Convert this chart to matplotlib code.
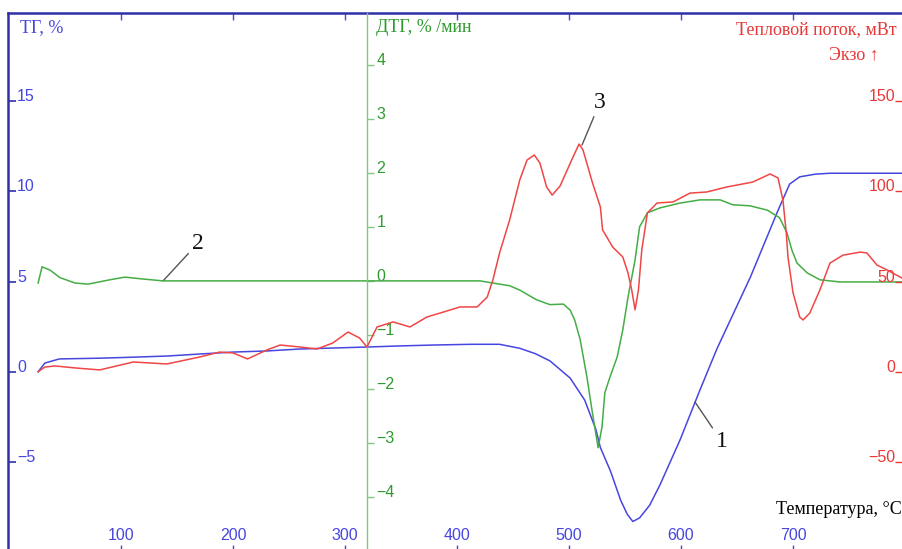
import numpy as np
from matplotlib import pyplot as plt

# --- data ---
# TG curve (1), %
tg_t = [26, 32, 45, 81, 108, 141, 170, 200, 230, 260, 320, 349, 379, 412, 438,
        456, 470, 483, 501, 514, 524, 528, 537, 546, 552, 557, 563, 572, 581,
        599, 617, 632, 662, 686, 697, 706, 720, 733, 797]
tg_v = [0.0, 0.48, 0.71, 0.75, 0.80, 0.87, 0.98, 1.09, 1.15, 1.26, 1.37, 1.43,
        1.48, 1.52, 1.52, 1.30, 1.0, 0.6, -0.35, -1.57, -3.2, -4.2, -5.5, -7.1,
        -7.9, -8.3, -8.1, -7.4, -6.3, -3.8, -1.0, 1.26, 5.25, 8.85, 10.4, 10.8,
        10.95, 11.0, 11.0]

# DTG curve (2), %/min
dtg_t = [26, 29.5, 36.6, 45.5, 59, 70.5, 90, 103.6, 117, 137.5, 420.5, 432, 447,
         456, 471, 483, 495, 501, 505, 510, 516, 520.5, 526, 529.5, 532, 536.6,
         543, 548, 552.7, 559, 563, 570, 581, 599, 617, 635, 646, 661.6, 677,
         688, 694.6, 699, 703.6, 712.5, 724, 742, 797]
dtg_v = [-0.04, 0.26, 0.20, 0.06, -0.04, -0.06, 0.02, 0.07, 0.04, 0.0, 0.0,
         -0.04, -0.09, -0.17, -0.35, -0.44, -0.43, -0.54, -0.72, -1.09, -1.78,
         -2.39, -3.09, -2.70, -2.07, -1.78, -1.41, -0.91, -0.30, 0.39, 1.0, 1.26,
         1.35, 1.44, 1.5, 1.5, 1.41, 1.39, 1.31, 1.17, 0.89, 0.57, 0.33, 0.15,
         0.02, -0.02, -0.02]

# heat flow curve (3), mW
hf_t = [26, 32, 41, 59, 81, 111, 141, 170.5, 188, 200, 213, 230, 242, 260, 275,
        289, 302.7, 313, 319.6, 328.6, 343, 358, 373, 387.5, 402.7, 418, 427,
        432, 438, 447, 456, 462.5, 469, 474, 480, 485, 492, 503.6, 509, 512.5,
        521, 528, 530, 539, 548, 552.7, 556, 559, 562, 565, 570, 578.6, 593,
        608, 623, 641, 664, 679.5, 686.6, 691, 694, 695.5, 700, 706, 709, 715,
        724, 733, 744.6, 760, 766, 775, 784, 797]
hf_v = [0, 2.6, 3.2, 2.1, 1.0, 5.4, 4.3, 8.2, 10.9, 10.4, 7.1, 12.0, 14.8, 13.7,
        12.6, 15.9, 22.0, 18.7, 13.7, 24.8, 27.6, 24.8, 30.3, 33.0, 35.9, 35.9,
        41.4, 50.8, 65.8, 84.1, 106.2, 117.3, 120.1, 115.7, 102.4, 97.9, 102.9,
        119, 126.2, 122.9, 104.6, 91.3, 78.6, 69.1, 63.6, 54.7, 45.3, 34.3, 45.3,
        67.5, 88, 93.5, 94.1, 99, 99.6, 102.4, 105.1, 109.6, 107.4, 95.2, 76.9,
        63.6, 43.8, 30.3, 28.7, 32.5, 45.3, 60.2, 64.6, 66.3, 65.8, 59.1, 56.4,
        52.0]

x_ticks = [100, 200, 300, 400, 500, 600, 700]
tg_ticks = [-5, 0, 5, 10, 15]
dtg_ticks = [-4, -3, -2, -1, 0, 1, 2, 3, 4]
hf_ticks = [-50, 0, 50, 100, 150]

# curve labels: (text, point on curve, text position) in TG axis units
marks = [('1', (612.5, -1.68), (636.6, -3.89)),
         ('2', (137.5, 5.03), (168.75, 7.13)),
         ('3', (511.6, 12.56), (527.7, 14.94))]

def lbl(v):
    return str(v).replace('-', '\u2212')

BLUE = '#4646e0'
BLUE_D = '#3030a8'
GREEN = '#45ad45'
GREEN_L = '#80c880'
GREEN_T = '#2f9a2f'
RED = '#f04646'
RED_T = '#e83838'
SANS = 'Liberation Sans'
SERIF = ['Liberation Serif', 'DejaVu Serif']
TFS = 11.5

fig = plt.figure(figsize=(9.02, 5.49), dpi=100)
ax = fig.add_axes([8/902, -3/549, 897/902, 539/549])
ax.set_xlim(-0.9, 800)
ax.set_ylim(-9.99, 19.88)

ax2 = ax.twinx()
ax2.set_ylim(-5.02, 4.96)
ax3 = ax.twinx()
ax3.set_ylim(-99.9, 198.8)

# curves
ax.plot(tg_t, tg_v, color=BLUE, lw=1.1, zorder=3)
ax2.plot(dtg_t, dtg_v, color=GREEN, lw=1.1)
ax3.plot(hf_t, hf_v, color=RED, lw=1.1)

# spines
for s in ['right', 'bottom']:
    ax.spines[s].set_visible(False)
for s in ['left', 'top']:
    ax.spines[s].set_color(BLUE_D)
    ax.spines[s].set_linewidth(1.8)
for s in ['top', 'bottom', 'right']:
    ax2.spines[s].set_visible(False)
ax2.spines['left'].set_visible(True)
ax2.spines['left'].set_position(('data', 320))
ax2.spines['left'].set_color(GREEN_L)
ax2.spines['left'].set_linewidth(1.0)
for s in ax3.spines:
    ax3.spines[s].set_visible(False)

# x ticks: labels inside, above the bottom
ax.set_xticks(x_ticks, [str(v) for v in x_ticks], va='bottom',
              fontfamily=SANS, fontsize=TFS, color=BLUE)
ax.tick_params(axis='x', which='both', bottom=True, top=True, direction='in',
               length=5, width=1, color=BLUE, pad=-6.5)
ax.tick_params(axis='x', top=True, labeltop=False)

# TG ticks
ax.set_yticks(tg_ticks, [lbl(v) for v in tg_ticks], ha='left', va='baseline',
              fontfamily=SANS, fontsize=TFS, color=BLUE)
ax.tick_params(axis='y', direction='in', length=6, width=1.2, color=BLUE_D, pad=-6.5)

# DTG ticks
ax2.yaxis.tick_left()
ax2.set_yticks(dtg_ticks, [lbl(v) for v in dtg_ticks], ha='left', va='baseline',
               fontfamily=SANS, fontsize=TFS, color=GREEN_T)
ax2.tick_params(axis='y', direction='in', length=5, width=1, color=GREEN_L, pad=-6.5)

# heat flow ticks
ax3.set_yticks(hf_ticks, [lbl(v) for v in hf_ticks], ha='right', va='baseline',
               fontfamily=SANS, fontsize=TFS, color=RED_T)
ax3.tick_params(axis='y', direction='in', length=7, width=1, color=RED_T, pad=-7)

# axis titles
fig.text(20/902, 1 - 28/549, 'ТГ, %', color=BLUE, family=SERIF, fontsize=13,
         ha='left', va='center')
fig.text(376/902, 1 - 28/549, 'ДТГ, % /мин', color=GREEN_T, family=SERIF,
         fontsize=13, ha='left', va='center')
fig.text(897/902, 1 - 30/549, 'Тепловой поток, мВт', color=RED_T, family=SERIF,
         fontsize=13, ha='right', va='center')
fig.text(879/902, 1 - 55/549, 'Экзо \u2191', color=RED_T, family=SERIF,
         fontsize=13, ha='right', va='center')
fig.text(1.0, 1 - 510/549, 'Температура, °С', color='black', family=SERIF,
         fontsize=13, ha='right', va='center')

for txt, xy, xyt in marks:
    ax.annotate(txt, xy=xy, xytext=xyt, ha='center', va='center',
                family=SERIF, fontsize=17, color='#111111',
                arrowprops=dict(arrowstyle='-', color='#555555', lw=1.0,
                                shrinkA=1, shrinkB=0), zorder=5)

fig.savefig('out.png', dpi=100)
